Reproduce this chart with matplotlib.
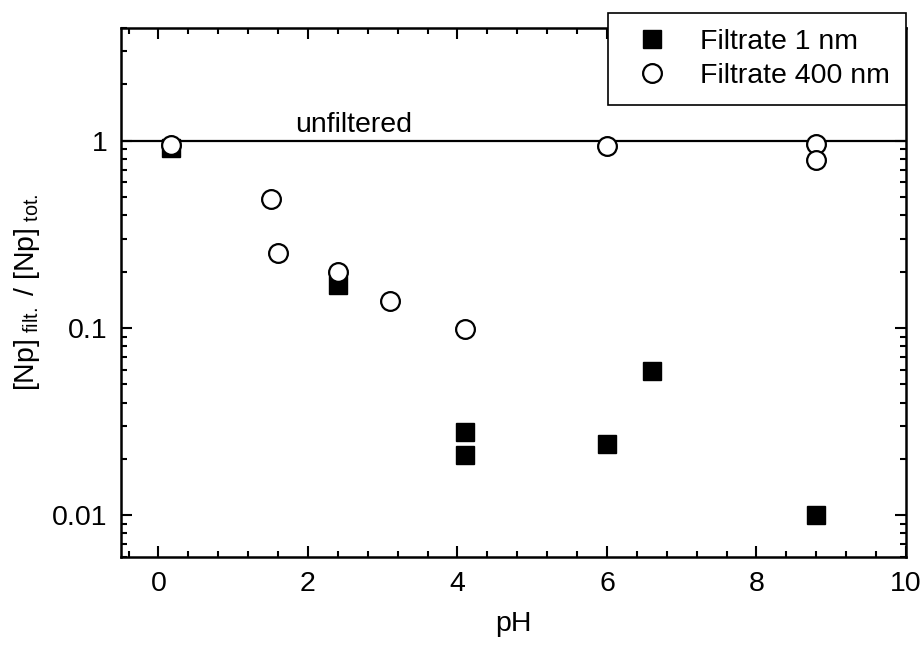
import matplotlib
matplotlib.use("Agg")
import matplotlib.pyplot as plt
from matplotlib.ticker import LogLocator, NullFormatter, MultipleLocator

plt.rcParams['font.family'] = ['Liberation Sans', 'DejaVu Sans']
plt.rcParams['mathtext.fontset'] = 'custom'
plt.rcParams['mathtext.rm'] = 'Liberation Sans'
plt.rcParams['mathtext.it'] = 'Liberation Sans'

# filtrate through 1 nm filter (filled squares)
ph_1nm = [0.17, 2.4, 4.1, 4.1, 6.0, 6.6, 8.8]
np_1nm = [0.92, 0.17, 0.028, 0.021, 0.024, 0.059, 0.010]

# filtrate through 400 nm filter (open circles)
ph_400nm = [0.17, 1.5, 1.6, 2.4, 3.1, 4.1, 6.0, 8.8, 8.8]
np_400nm = [0.95, 0.49, 0.25, 0.20, 0.14, 0.099, 0.94, 0.96, 0.79]

UNFILTERED = 1.0
FS = 20.5

fig = plt.figure(figsize=(9.24, 6.46), dpi=100)
ax = fig.add_axes([0.131, 0.138, 0.8495, 0.8187])

ax.axhline(UNFILTERED, color='black', lw=1.6, zorder=1)
ax.text(1.83, 1.03, "unfiltered", fontsize=FS, ha='left', va='bottom')

ax.plot(ph_1nm, np_1nm, linestyle='none', marker='s', ms=12.5,
        mfc='black', mec='black', label='Filtrate 1 nm', zorder=3)
ax.plot(ph_400nm, np_400nm, linestyle='none', marker='o', ms=13.5,
        mfc='white', mec='black', mew=1.6, label='Filtrate 400 nm', zorder=4)

ax.set_yscale('log')
ax.set_xlim(-0.5, 10)
ax.set_ylim(0.006, 4)

ax.set_xticks([0, 2, 4, 6, 8, 10])
ax.xaxis.set_minor_locator(MultipleLocator(0.4))
ax.set_yticks([0.01, 0.1, 1])
ax.set_yticklabels(['0.01', '0.1', '1'])
ax.yaxis.set_minor_locator(LogLocator(base=10, subs=range(2, 10)))
ax.yaxis.set_minor_formatter(NullFormatter())

ax.tick_params(which='both', direction='in', top=True, right=True,
               labelsize=FS, width=1.5)
ax.tick_params(which='major', length=8, pad=10)
ax.tick_params(which='minor', length=4.5)
for sp in ax.spines.values():
    sp.set_linewidth(1.8)

ax.set_xlabel('pH', fontsize=FS, labelpad=10)
ax.set_ylabel(r'[Np]$_{\rm\ filt.}$ / [Np]$_{\rm\ tot.}$', fontsize=FS, labelpad=7)

leg = ax.legend(loc='upper right', bbox_to_anchor=(0.9995, 1.028), fontsize=FS,
                frameon=True, fancybox=False, shadow=False, borderpad=0.55,
                handletextpad=0.7, labelspacing=0.3, borderaxespad=0,
                framealpha=1)
leg.get_frame().set_edgecolor('black')
leg.get_frame().set_linewidth(1.2)

fig.savefig('out.png', dpi=100)
